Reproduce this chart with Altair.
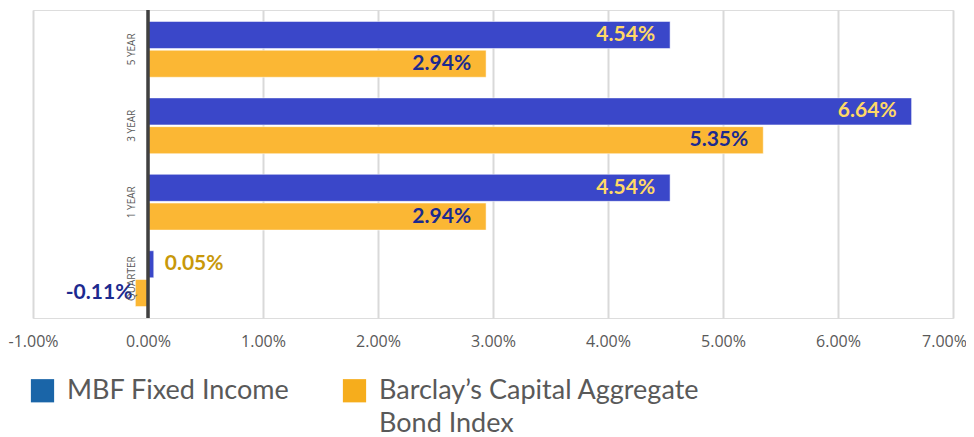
import altair as alt
import pandas as pd

categories = ["5 YEAR", "3 YEAR", "1 YEAR", "QUARTER"]
series_names = ["MBF Fixed Income", "Barclay’s Capital Aggregate Bond Index"]
mbf_values = [4.54, 6.64, 4.54, 0.05]
barclay_values = [2.94, 5.35, 2.94, -0.11]
x_ticks = [-1, 0, 1, 2, 3, 4, 5, 6, 7]

rows = []
for i, c in enumerate(categories):
    rows.append({"category": c, "series": series_names[0], "value": mbf_values[i]})
    rows.append({"category": c, "series": series_names[1], "value": barclay_values[i]})
df = pd.DataFrame(rows)
df["label"] = df["value"].map(lambda v: f"{v:.2f}%")
cat_df = pd.DataFrame({"category": categories, "zero": [0] * len(categories)})

FONT = "Lato"
bar_colors = ["#3A47C9", "#FBB734"]
legend_colors = ["#1A65A8", "#F6AD1C"]

y_enc = alt.Y("category:N", sort=categories, axis=None,
              scale=alt.Scale(paddingInner=0.27, paddingOuter=0.15))
y_off = alt.YOffset("series:N", sort=series_names, scale=alt.Scale(paddingInner=0.06))
x_scale = alt.Scale(domain=[-1, 7], nice=False, zero=False)

base = alt.Chart(df)

bars = base.mark_bar(stroke="white", strokeWidth=1, strokeOpacity=0.5).encode(
    x=alt.X("value:Q", scale=x_scale, title=None,
            axis=alt.Axis(values=x_ticks,
                          labelExpr="replace(format(datum.value, '.2f'), '\u2212', '-') + '%'",
                          grid=True, gridColor="#d9d9d9", gridWidth=2, labelFlush=False,
                          labelOffset={"expr": "datum.value == 7 ? -9 : 0"},
                          domain=False, ticks=False, labelPadding=15,
                          labelFontSize=16, labelColor="#595959", labelFont="Open Sans")),
    y=y_enc,
    yOffset=y_off,
    fill=alt.Fill("series:N", sort=series_names,
                  scale=alt.Scale(domain=series_names, range=bar_colors), legend=None),
)

legend_layer = base.mark_square(opacity=0, size=0).encode(
    x=alt.X("value:Q", scale=x_scale),
    y=y_enc,
    color=alt.Color("series:N", sort=series_names,
                    scale=alt.Scale(domain=series_names, range=legend_colors),
                    legend=alt.Legend(
                        title=None, orient="none", legendX=-4, legendY=367,
                        direction="horizontal", columns=2, columnPadding=51,
                        symbolType="square", symbolSize=540, symbolOpacity=1,
                        symbolStrokeWidth=0, labelFont=FONT, labelFontSize=27,
                        labelColor="#595959", labelLimit=500, labelOffset=11,
                        labelBaseline="middle",
                        labelExpr="datum.label == 'Barclay’s Capital Aggregate Bond Index' ? ['Barclay’s Capital Aggregate', 'Bond Index'] : [datum.label, ' ']",
                    )),
)

inside = base.transform_filter("abs(datum.value) >= 1").mark_text(
    align="right", baseline="middle", dx=-15, fontSize=21, fontWeight="bold", font=FONT
).encode(
    x=alt.X("value:Q", scale=x_scale),
    y=y_enc,
    yOffset=y_off,
    text="label:N",
    color=alt.Color("series:N", scale=alt.Scale(domain=series_names, range=["#FFD966", "#1C2A8F"]), legend=None),
)

outside_pos = base.transform_filter("abs(datum.value) < 1 && datum.value >= 0").mark_text(
    align="left", baseline="middle", dx=11, fontSize=21, fontWeight="bold", font=FONT, color="#C8980A"
).encode(
    x=alt.X("value:Q", scale=x_scale), y=y_enc, yOffset=y_off, text="label:N"
)

outside_neg = base.transform_filter("datum.value < 0").mark_text(
    align="right", baseline="middle", dx=-3, fontSize=21, fontWeight="bold", font=FONT, color="#1C2A8F"
).encode(
    x=alt.X("value:Q", scale=x_scale), y=y_enc, yOffset=y_off, text="label:N"
)

zero_rule = alt.Chart(pd.DataFrame({"z": [0]})).mark_rule(color="#404040", strokeWidth=3.5).encode(
    x=alt.X("z:Q", scale=x_scale)
)

cat_labels = alt.Chart(cat_df).mark_text(
    angle=270, align="center", baseline="bottom", dy=-11, fontSize=10, color="#595959", font="Open Sans"
).encode(
    x=alt.X("zero:Q", scale=x_scale),
    y=y_enc,
    text="category:N",
)

chart = alt.layer(bars, legend_layer, zero_rule, inside, outside_pos, outside_neg, cat_labels).resolve_scale(
    color="independent"
).properties(
    width=920, height=308,
    autosize=alt.AutoSizeParams(type="none"),
    padding={"left": 25, "top": 2, "right": 13, "bottom": 118},
).configure_view(stroke=None).configure(
    style={"guide-label": {"lineHeight": 33}}
)

chart.save("out.html", embed_options={"renderer": "svg", "actions": False})
